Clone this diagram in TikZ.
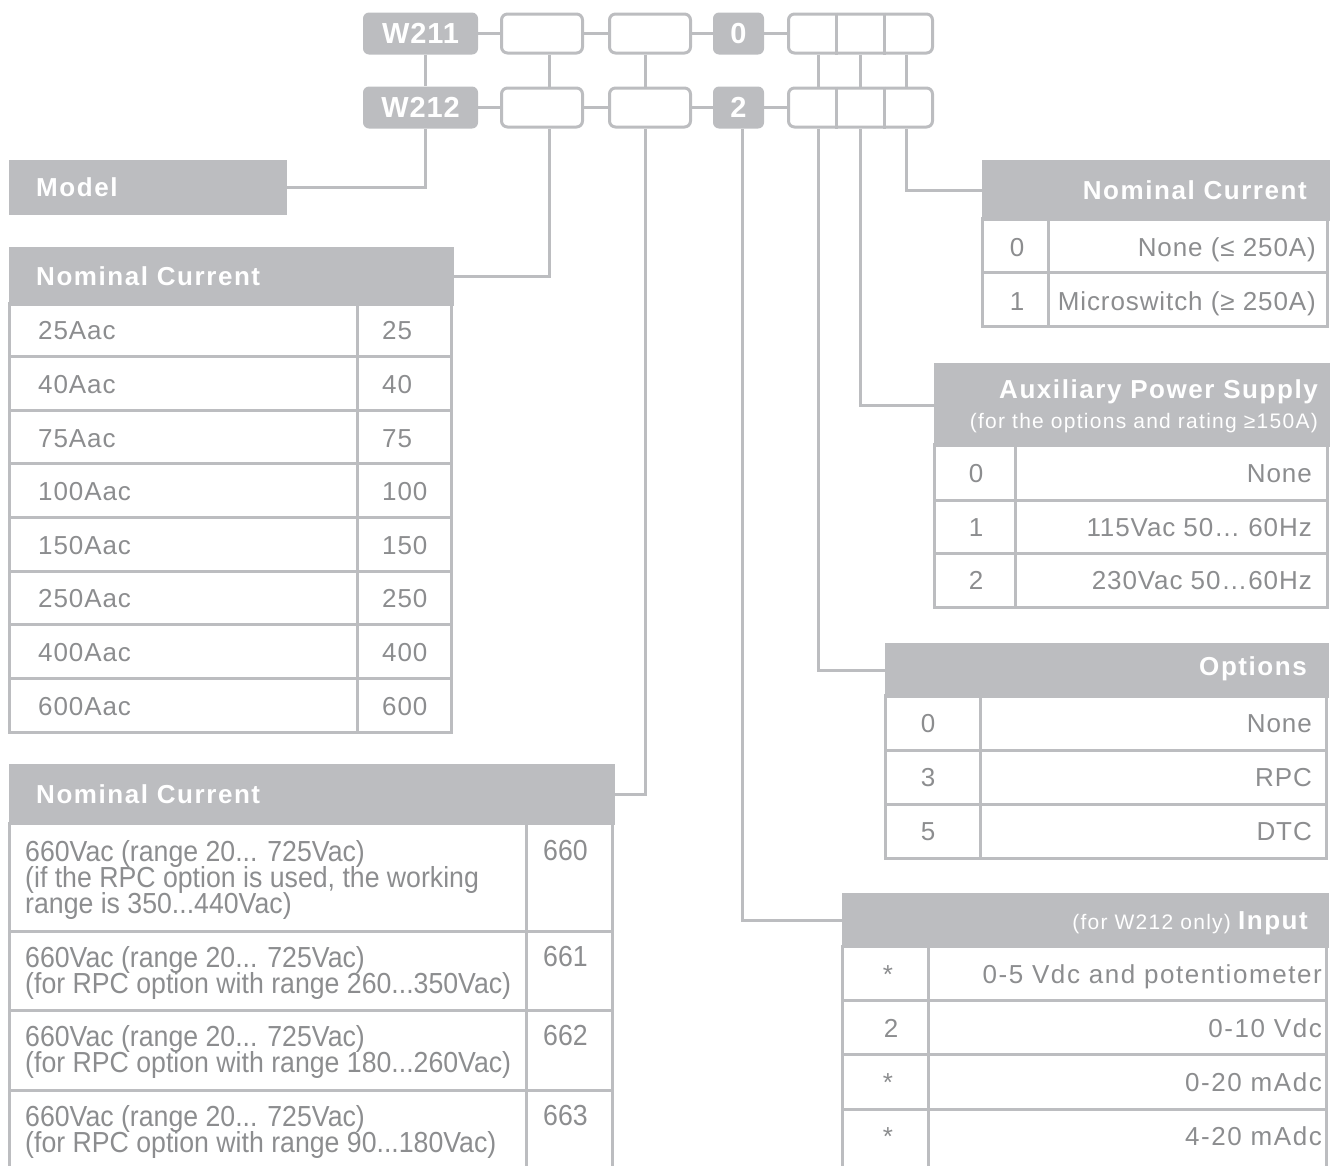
\documentclass[tikz,border=0pt]{standalone}
\usepackage{fontspec}
\setmainfont{Liberation Sans}
\newfontfamily\hdrfont{Liberation Sans}[LetterSpace=6]
\newfontfamily\bodyfont{Liberation Sans}[LetterSpace=3.5]
\newfontfamily\widefont{Liberation Sans}[LetterSpace=6]
\newfontfamily\topfont{Liberation Sans}[LetterSpace=3]
\newfontfamily\narrowfont{Liberation Sans}[FakeStretch=0.92]
\newcommand\tightlines{\lineskiplimit=-30pt\relax\lineskip=0pt\relax}
\definecolor{cgray}{RGB}{188,189,192}
\definecolor{ctext}{RGB}{140,141,143}
\tikzset{
  conn/.style={draw=cgray, line width=3pt},
  cell/.style={draw=cgray, line width=3pt},
  hdrbox/.style={fill=cgray, draw=cgray, line width=3pt, inner sep=0pt, anchor=north west},
  topfill/.style={fill=cgray, rounded corners=6pt, inner sep=0pt, minimum height=42pt, text=white, font=\topfont\fontsize{29}{30}\selectfont\bfseries},
  topempty/.style={draw=cgray, fill=white, line width=3pt, rounded corners=6pt, inner sep=0pt, minimum height=39pt},
  htxt/.style={inner sep=0pt, text=white, font=\hdrfont\fontsize{26}{28}\selectfont\bfseries},
  stxt/.style={inner sep=0pt, text=white, font=\widefont\fontsize{21}{23}\selectfont},
  btxt/.style={inner sep=0pt, text=ctext, font=\bodyfont\fontsize{26}{28}\selectfont},
  wtxt/.style={inner sep=0pt, text=ctext, font=\widefont\fontsize{26}{28}\selectfont},
  ltxt/.style={inner sep=0pt, text=ctext, font={\narrowfont\fontsize{29}{26}\selectfont\tightlines}},
  lblock/.style={ltxt, align=left, anchor=north west},
}
\begin{document}
\begin{tikzpicture}[x=1pt,y=-1pt]
\useasboundingbox (0,0) rectangle (1337,1165);
% connector x positions
\coordinate (va) at (425,0);
\coordinate (vb) at (549,0);
\coordinate (vc) at (645,0);
\coordinate (vd) at (742,0);
\coordinate (ve) at (818,0);
\coordinate (vf) at (860,0);
\coordinate (vg) at (906,0);
\coordinate (da) at (836,0);
\coordinate (db) at (884,0);
% ---------- top code boxes ----------
\node[topfill, minimum width=115pt] (w211) at (420.5,33.5) {W211};
\node[topempty, minimum width=81pt] (b2a) at (542,33.5) {};
\node[topempty, minimum width=81pt] (b3a) at (650,33.5) {};
\node[topfill, minimum width=51pt] (zeroa) at (738.5,33.5) {0};
\node[topempty, minimum width=144pt] (grpa) at (860.5,33.5) {};
\node[topfill, minimum width=115pt] (w212) at (420.5,107.5) {W212};
\node[topempty, minimum width=81pt] (b2b) at (542,107.5) {};
\node[topempty, minimum width=81pt] (b3b) at (650,107.5) {};
\node[topfill, minimum width=51pt] (twob) at (738.5,107.5) {2};
\node[topempty, minimum width=144pt] (grpb) at (860.5,107.5) {};
\draw[conn] (grpa.north -| da) -- (grpa.south -| da);
\draw[conn] (grpa.north -| db) -- (grpa.south -| db);
\draw[conn] (grpb.north -| da) -- (grpb.south -| da);
\draw[conn] (grpb.north -| db) -- (grpb.south -| db);
% horizontal links
\draw[conn] (w211.east) -- (b2a.west);
\draw[conn] (b2a.east) -- (b3a.west);
\draw[conn] (b3a.east) -- (zeroa.west);
\draw[conn] (zeroa.east) -- (grpa.west);
\draw[conn] (w212.east) -- (b2b.west);
\draw[conn] (b2b.east) -- (b3b.west);
\draw[conn] (b3b.east) -- (twob.west);
\draw[conn] (twob.east) -- (grpb.west);
% vertical links between rows
\draw[conn] (w211.south -| va) -- (w212.north -| va);
\draw[conn] (b2a.south -| vb) -- (b2b.north -| vb);
\draw[conn] (b3a.south -| vc) -- (b3b.north -| vc);
\draw[conn] (grpa.south -| ve) -- (grpb.north -| ve);
\draw[conn] (grpa.south -| vf) -- (grpb.north -| vf);
\draw[conn] (grpa.south -| vg) -- (grpb.north -| vg);
% ---------- Model ----------
\node[hdrbox, minimum width=275pt, minimum height=52pt] (model) at (9,160) {};
\node[htxt, anchor=west] (modelt) at (36,187) {Model};
\draw[conn] (model.east) -| (w212.south -| va);
% ---------- Nominal current (left) ----------
\node[hdrbox, minimum width=442pt, minimum height=56pt] (nca) at (9,247) {};
\node[htxt, anchor=west] (ncat) at (36,276) {Nominal Current};
\draw[conn] (nca.east) -| (b2b.south -| vb);
\draw[cell] (9,303) rectangle (451,732);
\foreach \i in {1,...,7} \draw[cell] (9,{303+53.6*\i}) -- (451,{303+53.6*\i});
\draw[cell] (357,303) -- (357,732);
\foreach \lab/\val [count=\i from 0] in {25Aac/25,40Aac/40,75Aac/75,100Aac/100,150Aac/150,250Aac/250,400Aac/400,600Aac/600}{
  \node[btxt, anchor=base west] (ncal\i) at (38,{303+53.6*\i+26.8+10}) {\lab};
  \node[btxt, anchor=base west] (ncav\i) at (382,{303+53.6*\i+26.8+10}) {\val};
}
% ---------- Nominal current (bottom left) ----------
\node[hdrbox, minimum width=603pt, minimum height=58pt] (ncb) at (9,764) {};
\node[htxt, anchor=west] (ncbt) at (36,794) {Nominal Current};
\draw[conn] (ncb.east) -| (b3b.south -| vc);
\draw[cell] (9,822) -- (9,1170);
\draw[cell] (612,822) -- (612,1170);
\draw[cell] (526,822) -- (526,1170);
\draw[cell] (9,931) -- (612,931);
\draw[cell] (9,1010) -- (612,1010);
\draw[cell] (9,1090) -- (612,1090);
\node[lblock] (r1) at (25,840) {660Vac (range 20... 725Vac)\\(if the RPC option is used, the working\\range is 350...440Vac)};
\node[lblock] (r1v) at (543,840) {660};
\node[lblock] (r2) at (25,946) {660Vac (range 20... 725Vac)\\(for RPC option with range 260...350Vac)};
\node[lblock] (r2v) at (543,946) {661};
\node[lblock] (r3) at (25,1025) {660Vac (range 20... 725Vac)\\(for RPC option with range 180...260Vac)};
\node[lblock] (r3v) at (543,1025) {662};
\node[lblock] (r4) at (25,1105) {660Vac (range 20... 725Vac)\\(for RPC option with range 90...180Vac)};
\node[lblock] (r4v) at (543,1105) {663};
% ---------- Nominal current (right) ----------
\node[hdrbox, minimum width=345pt, minimum height=58pt] (ncc) at (982,160) {};
\node[htxt, anchor=east] (ncct) at (1307,190) {Nominal Current};
\draw[conn] (ncc.west) -| (grpb.south -| vg);
\draw[cell] (982,218) rectangle (1327,326);
\draw[cell] (982,272) -- (1327,272);
\draw[cell] (1048,218) -- (1048,326);
\node[btxt, anchor=base] (ncck0) at (1017,256) {0};
\node[btxt, anchor=base east] (nccv0) at (1316,256) {None (≤ 250A)};
\node[btxt, anchor=base] (ncck1) at (1017,310) {1};
\node[btxt, anchor=base east] (nccv1) at (1316,310) {Microswitch (≥ 250A)};
% ---------- Auxiliary power supply ----------
\node[hdrbox, minimum width=393pt, minimum height=81pt] (aux) at (934,363) {};
\node[htxt, anchor=base east] (auxt) at (1318,398) {Auxiliary Power Supply};
\node[stxt, anchor=base east] (auxs) at (1318,428) {(for the options and rating ≥150A)};
\draw[conn] (aux.west) -| (grpb.south -| vf);
\draw[cell] (934,444) rectangle (1327,607);
\draw[cell] (934,500) -- (1327,500);
\draw[cell] (934,553) -- (1327,553);
\draw[cell] (1015,444) -- (1015,607);
\node[btxt, anchor=base] (auxk0) at (976,482) {0};
\node[btxt, anchor=base east] (auxv0) at (1312,482) {None};
\node[btxt, anchor=base] (auxk1) at (976,536) {1};
\node[btxt, anchor=base east] (auxv1) at (1312,536) {115Vac 50… 60Hz};
\node[btxt, anchor=base] (auxk2) at (976,589) {2};
\node[btxt, anchor=base east] (auxv2) at (1312,589) {230Vac 50…60Hz};
% ---------- Options ----------
\node[hdrbox, minimum width=441pt, minimum height=52pt] (opt) at (885,643) {};
\node[htxt, anchor=east] (optt) at (1307,669) {Options};
\draw[conn] (opt.west) -| (grpb.south -| ve);
\draw[cell] (885,695) rectangle (1326,858);
\draw[cell] (885,750) -- (1326,750);
\draw[cell] (885,804) -- (1326,804);
\draw[cell] (980,695) -- (980,858);
\node[btxt, anchor=base] (optk0) at (928,732) {0};
\node[btxt, anchor=base east] (optv0) at (1312,732) {None};
\node[btxt, anchor=base] (optk1) at (928,786) {3};
\node[btxt, anchor=base east] (optv1) at (1312,786) {RPC};
\node[btxt, anchor=base] (optk2) at (928,840) {5};
\node[btxt, anchor=base east] (optv2) at (1312,840) {DTC};
% ---------- Input ----------
\node[hdrbox, minimum width=484pt, minimum height=52pt] (inp) at (842,893) {};
\node[inner sep=0pt, text=white, anchor=base east] (inpt) at (1308,929) {{\widefont\fontsize{21}{23}\selectfont (for W212 only) }{\hdrfont\fontsize{26}{28}\selectfont\bfseries Input}};
\draw[conn] (inp.west) -| (twob.south -| vd);
\draw[cell] (842,945) -- (842,1170);
\draw[cell] (1326,945) -- (1326,1170);
\draw[cell] (928,945) -- (928,1170);
\draw[cell] (842,1000) -- (1326,1000);
\draw[cell] (842,1054) -- (1326,1054);
\draw[cell] (842,1109) -- (1326,1109);
\node[wtxt, anchor=base] (inpk0) at (888,983) {*};
\node[wtxt, anchor=base east] (inpv0) at (1322,983) {0-5 Vdc and potentiometer};
\node[wtxt, anchor=base] (inpk1) at (891,1037) {2};
\node[wtxt, anchor=base east] (inpv1) at (1322,1037) {0-10 Vdc};
\node[wtxt, anchor=base] (inpk2) at (888,1091) {*};
\node[wtxt, anchor=base east] (inpv2) at (1322,1091) {0-20 mAdc};
\node[wtxt, anchor=base] (inpk3) at (888,1145) {*};
\node[wtxt, anchor=base east] (inpv3) at (1322,1145) {4-20 mAdc};
\end{tikzpicture}
\end{document}
